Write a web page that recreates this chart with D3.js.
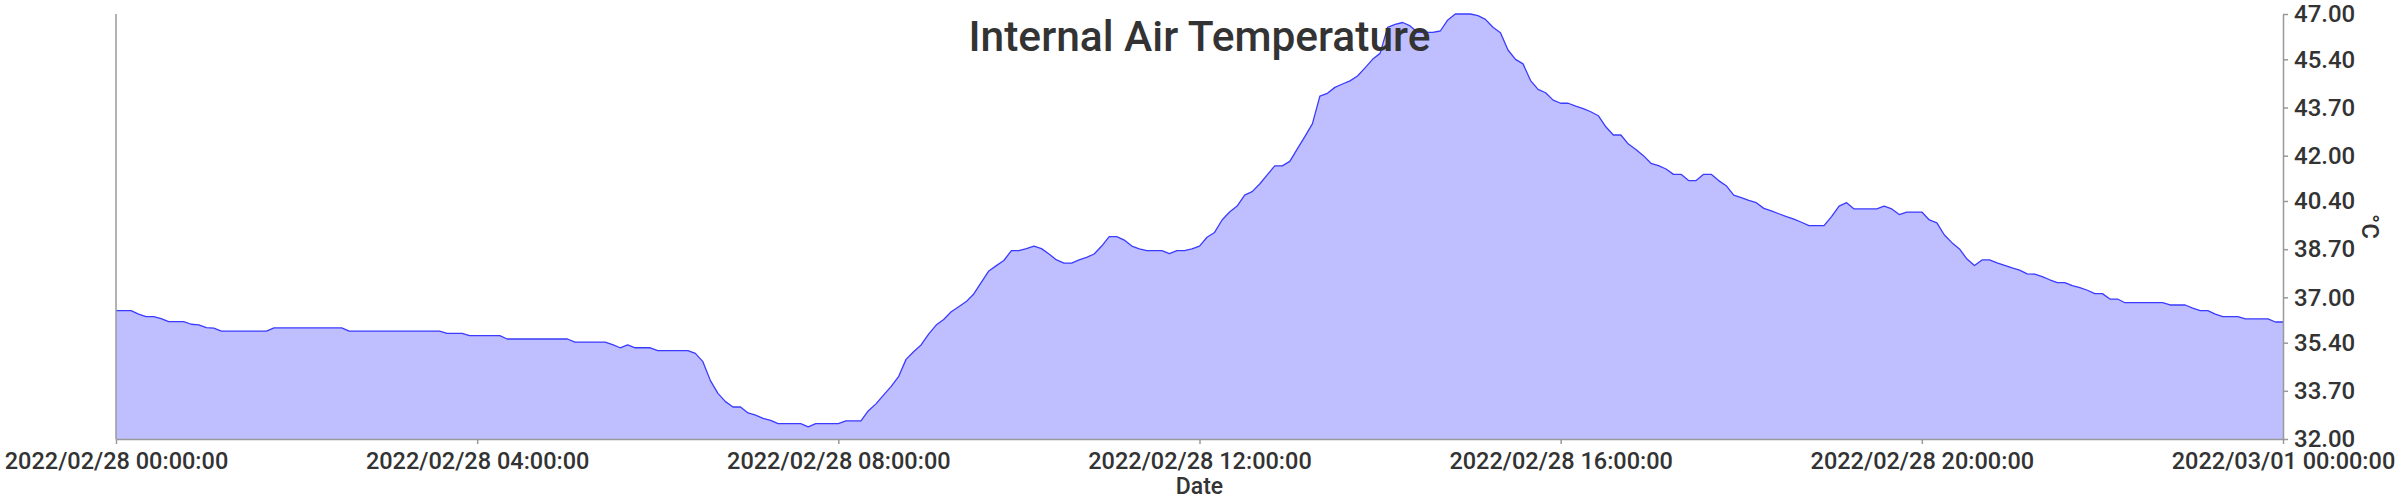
<!DOCTYPE html>
<html>
<head>
<meta charset="utf-8">
<script src="https://cdn.jsdelivr.net/npm/d3@7"></script>
<style>
  html, body { margin: 0; padding: 0; background: #fff; }
  svg { display: block; font-family: Roboto, "Noto Sans", sans-serif; }
</style>
</head>
<body>
<svg id="chart" width="2400" height="500"></svg>
<script>
// ---- data ----
const chartTitle = "Internal Air Temperature";
const xAxisName = "Date";
const yAxisName = "°C";
const dayStart = [2022, 1, 28]; // 2022-02-28
const times = [
  "00:00","00:10","00:15","00:20","00:25","00:30","00:35","00:45","00:50","00:55",
  "01:00","01:05","01:10","01:40","01:45","02:30","02:35","03:35","03:40","03:50",
  "03:55","04:15","04:20","05:00","05:05","05:25","05:30","05:35","05:40","05:45",
  "05:55","06:00","06:20","06:25","06:30","06:35","06:40","06:45","06:50","06:55",
  "07:00","07:05","07:10","07:15","07:20","07:35","07:40","07:45","08:00","08:05",
  "08:15","08:20","08:25","08:30","08:35","08:40","08:45","08:50","08:55","09:00",
  "09:05","09:10","09:15","09:20","09:25","09:30","09:35","09:40","09:45","09:50",
  "09:55","10:00","10:05","10:10","10:15","10:20","10:25","10:30","10:35","10:40",
  "10:45","10:50","10:55","11:00","11:05","11:10","11:15","11:20","11:25","11:35",
  "11:40","11:45","11:50","11:55","12:00","12:05","12:10","12:15","12:20","12:25",
  "12:30","12:35","12:40","12:45","12:50","12:55","13:00","13:05","13:10","13:15",
  "13:20","13:25","13:30","13:35","13:40","13:45","13:50","13:55","14:00","14:05",
  "14:10","14:15","14:20","14:25","14:35","14:40","14:45","14:50","15:00","15:05",
  "15:10","15:15","15:20","15:25","15:30","15:35","15:40","15:45","15:50","15:55",
  "16:00","16:05","16:10","16:15","16:20","16:25","16:30","16:35","16:40","16:45",
  "16:50","16:55","17:00","17:05","17:10","17:15","17:20","17:25","17:30","17:35",
  "17:40","17:45","17:50","17:55","18:00","18:05","18:10","18:15","18:20","18:25",
  "18:30","18:35","18:40","18:45","18:55","19:00","19:05","19:10","19:15","19:30",
  "19:35","19:40","19:45","19:50","20:00","20:05","20:10","20:15","20:20","20:25",
  "20:30","20:35","20:40","20:45","20:50","20:55","21:00","21:05","21:10","21:15",
  "21:20","21:25","21:30","21:35","21:40","21:45","21:50","21:55","22:00","22:05",
  "22:10","22:15","22:40","22:45","22:55","23:00","23:05","23:10","23:15","23:20",
  "23:30","23:35","23:50","23:55","24:00"
];
const temps = [
  36.53,36.53,36.41,36.32,36.32,36.25,36.14,36.14,36.05,36.03,
  35.93,35.91,35.81,35.81,35.92,35.92,35.81,35.81,35.73,35.73,
  35.65,35.65,35.53,35.53,35.42,35.42,35.33,35.22,35.32,35.22,
  35.22,35.12,35.12,35.02,34.73,34.06,33.61,33.32,33.13,33.13,
  32.92,32.84,32.73,32.66,32.54,32.54,32.43,32.54,32.54,32.64,
  32.64,33.00,33.24,33.55,33.85,34.20,34.81,35.08,35.32,35.70,
  36.02,36.22,36.49,36.67,36.85,37.12,37.53,37.93,38.12,38.30,
  38.65,38.65,38.72,38.81,38.72,38.53,38.32,38.21,38.21,38.32,
  38.41,38.53,38.81,39.14,39.14,39.02,38.81,38.71,38.65,38.65,
  38.54,38.65,38.65,38.71,38.81,39.12,39.29,39.73,40.01,40.22,
  40.61,40.73,41.00,41.32,41.64,41.64,41.80,42.24,42.67,43.12,
  44.10,44.20,44.41,44.53,44.64,44.81,45.10,45.40,45.61,46.53,
  46.63,46.70,46.58,46.35,46.35,46.40,46.79,47.00,47.00,46.94,
  46.81,46.53,46.34,45.73,45.40,45.24,44.65,44.34,44.22,43.96,
  43.85,43.85,43.75,43.66,43.55,43.41,43.02,42.73,42.73,42.41,
  42.22,42.00,41.73,41.65,41.53,41.34,41.34,41.12,41.12,41.34,
  41.34,41.12,40.94,40.61,40.52,40.42,40.34,40.14,40.05,39.95,
  39.85,39.76,39.65,39.53,39.53,39.85,40.22,40.34,40.12,40.12,
  40.22,40.12,39.92,40.01,40.01,39.73,39.63,39.20,38.93,38.71,
  38.35,38.12,38.32,38.32,38.22,38.13,38.04,37.96,37.83,37.82,
  37.73,37.62,37.52,37.52,37.41,37.34,37.25,37.13,37.13,36.94,
  36.94,36.81,36.81,36.73,36.73,36.62,36.53,36.53,36.41,36.32,
  36.32,36.24,36.24,36.13,36.13
];
const yTickValues = [32.00, 33.70, 35.40, 37.00, 38.70, 40.40, 42.00, 43.70, 45.40, 47.00];
const yDomain = [32, 47];
const xTickHours = 4;

// ---- build ----
function toDate(s) {
  const [h, m] = s.split(":").map(Number);
  return new Date(dayStart[0], dayStart[1], dayStart[2], h, m);
}
const n = Math.min(times.length, temps.length);
const data = times.slice(0, n).map((t, i) => ({ date: toDate(t), value: temps[i] }));

const svg = d3.select("#chart");
const margin = { left: 116, right: 117, top: 14, bottom: 61 };
const W = 2400, H = 500;
const x0 = margin.left, x1 = W - margin.right;
const y0 = H - margin.bottom, y1 = margin.top;

const xDomain = [toDate("00:00"), toDate("24:00")];
const x = d3.scaleTime().domain(xDomain).range([x0, x1]);
const y = d3.scaleLinear().domain(yDomain).range([y0, y1]);

const area = d3.area()
  .x(d => x(d.date))
  .y0(y(yDomain[0]))
  .y1(d => y(d.value));
const line = d3.line()
  .x(d => x(d.date))
  .y(d => y(d.value));

svg.append("path").datum(data)
  .attr("d", area)
  .attr("fill", "#bfbfff");
svg.append("path").datum(data)
  .attr("d", line)
  .attr("fill", "none")
  .attr("stroke", "#3b3bff")
  .attr("stroke-width", 1.3)
  .attr("stroke-linejoin", "round");

const axisColor = "#999";
const textColor = "#333";

// x axis
const fmt = d3.timeFormat("%Y/%m/%d %H:%M:%S");
const xAxis = d3.axisBottom(x)
  .ticks(d3.timeHour.every(xTickHours))
  .tickFormat(fmt)
  .tickSizeInner(5)
  .tickSizeOuter(0)
  .tickPadding(8);
const gx = svg.append("g").attr("transform", `translate(0,${y0})`).call(xAxis);
gx.select(".domain").attr("stroke", axisColor).attr("stroke-width", 1.5);
gx.selectAll(".tick line").attr("stroke", axisColor).attr("stroke-width", 1.5);
gx.selectAll(".tick text")
  .attr("fill", textColor)
  .style("font-family", "Roboto")
  .style("font-weight", 500)
  .style("font-size", "23.5px");

// left axis line (no labels)
svg.append("line")
  .attr("x1", x0).attr("x2", x0)
  .attr("y1", y1).attr("y2", y0)
  .attr("stroke", axisColor).attr("stroke-width", 1.5);

// right y axis
const yAxis = d3.axisRight(y)
  .tickValues(yTickValues)
  .tickFormat(d3.format(".2f"))
  .tickSizeInner(5)
  .tickSizeOuter(0)
  .tickPadding(6);
const gy = svg.append("g").attr("transform", `translate(${x1},0)`).call(yAxis);
gy.select(".domain").attr("stroke", axisColor).attr("stroke-width", 1.5);
gy.selectAll(".tick line").attr("stroke", axisColor).attr("stroke-width", 1.5);
gy.selectAll(".tick text")
  .attr("fill", textColor)
  .style("font-family", "Roboto")
  .style("font-weight", 500)
  .style("font-size", "24px");

// axis names
svg.append("text")
  .attr("x", (x0 + x1) / 2)
  .attr("y", 494)
  .attr("text-anchor", "middle")
  .attr("fill", textColor)
  .style("font-size", "23px")
  .style("font-weight", 500)
  .text(xAxisName);

svg.append("text")
  .attr("transform", `translate(2362,${(y0 + y1) / 2}) rotate(90)`)
  .attr("text-anchor", "middle")
  .attr("fill", textColor)
  .style("font-size", "24px")
  .style("font-weight", 500)
  .text(yAxisName);

// title
svg.append("text")
  .attr("x", (x0 + x1) / 2)
  .attr("y", 51)
  .attr("text-anchor", "middle")
  .attr("fill", textColor)
  .style("font-size", "42.5px")
  .style("font-weight", 500)
  .text(chartTitle);
</script>
</body>
</html>
